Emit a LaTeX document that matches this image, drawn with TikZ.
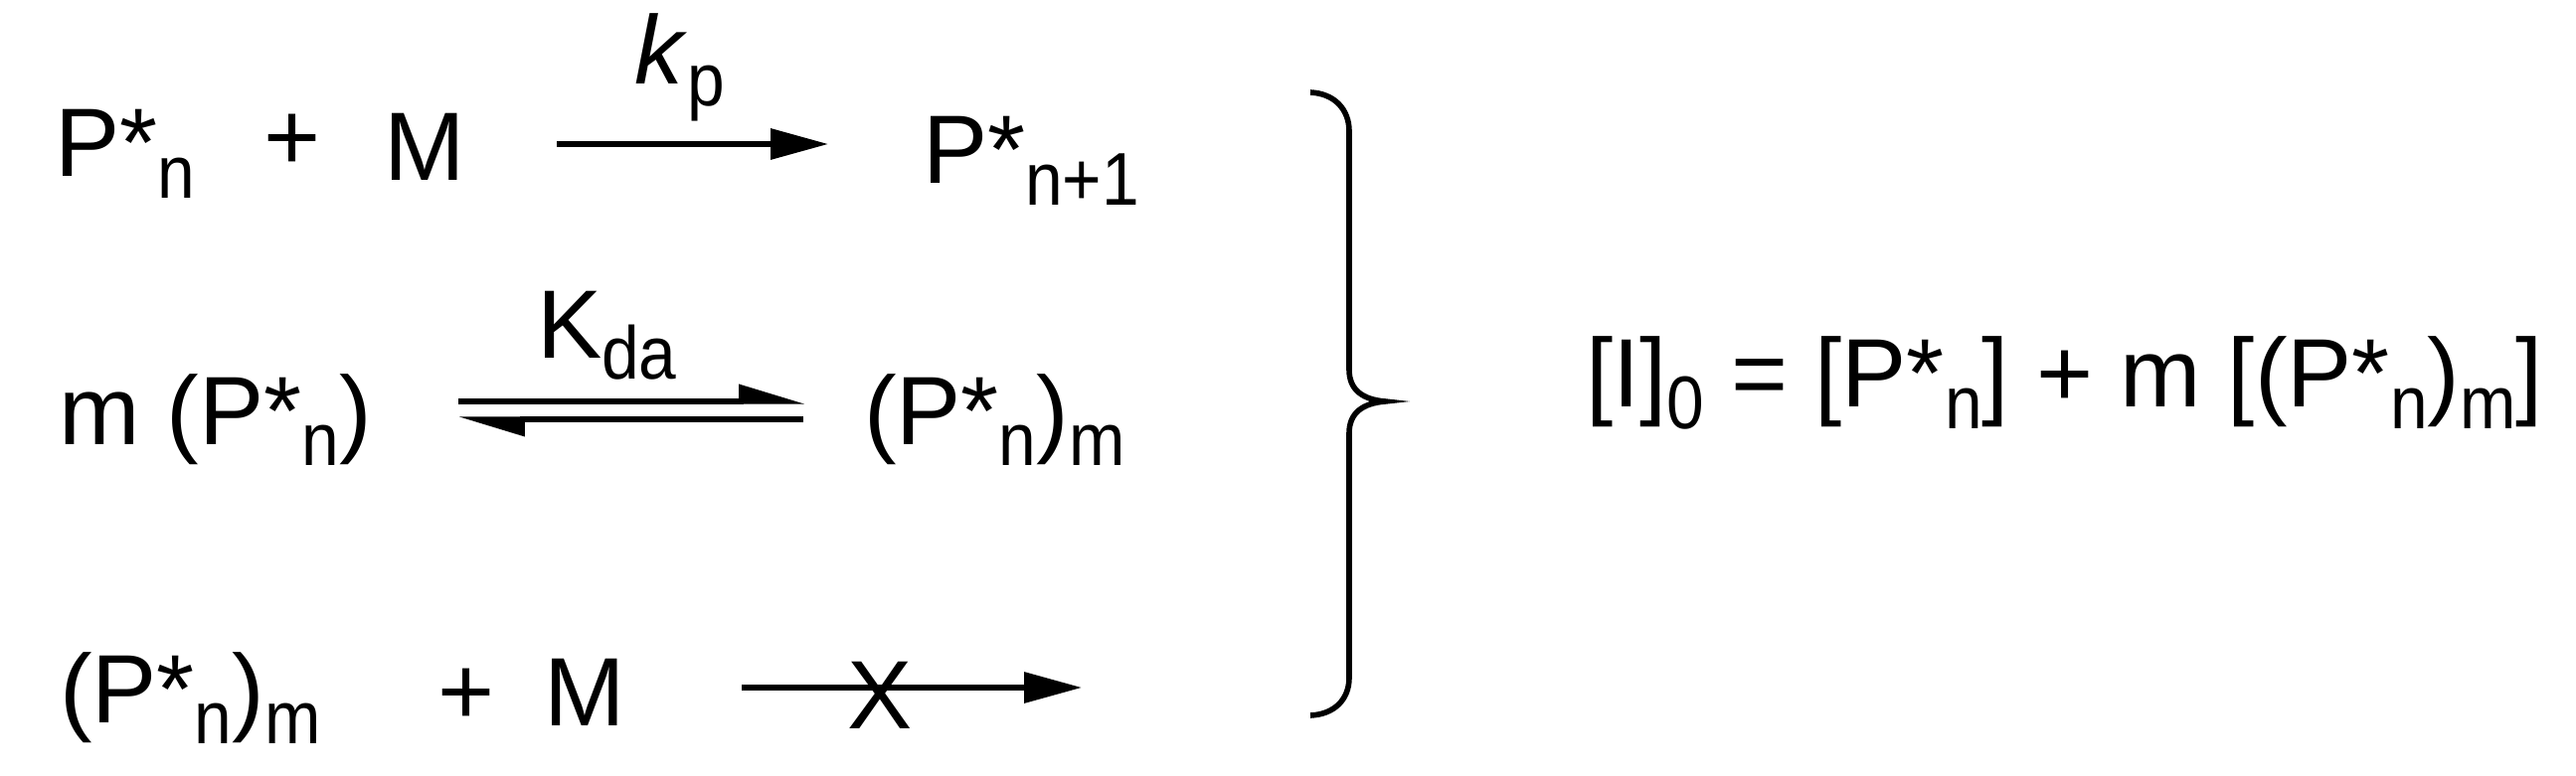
\documentclass[tikz,border=0pt]{standalone}
\usepackage{fontspec}
\setmainfont{Liberation Sans}
\usetikzlibrary{arrows.meta}
\newcommand{\sbs}[1]{\raisebox{-5.4pt}{\scalebox{0.9}[1]{\fontsize{18.8pt}{20pt}\selectfont #1}}}
\begin{document}
\begin{tikzpicture}[x=0.25pt,y=-0.25pt,
  txt/.style={inner sep=0pt, outer sep=0pt, anchor=base west, font=\fontsize{24.45pt}{28pt}\selectfont},
  rxn/.style={line width=1.3pt, -{Triangle[length=14.5pt,width=7.6pt]}},
  harp/.style={line width=1.3pt, -{Triangle[left,length=14.5pt,width=8.4pt]}},
  bracestyle/.style={line width=1.4pt}]
\useasboundingbox (0,0) rectangle (2591,781);
% row 1
\node[txt] (r1a) at (55,178) {P*\sbs{n}};
\node[txt] (r1p) at (265,172) {+};
\node[txt] (r1m) at (386,182) {M};
\node[txt] (kp) at (638,85) {\textit{k}\sbs{p}};
\node[txt] (r1b) at (928,185) {P*\sbs{n+1}};
\coordinate (a1s) at (560,145);
\coordinate (a1e) at (833,145);
\draw[rxn] (a1s) -- (a1e);
% row 2
\node[txt] (r2a) at (59,447) {m (P*\sbs{n})};
\node[txt] (kda) at (540,360) {K\sbs{da}};
\node[txt] (r2b) at (869,447) {(P*\sbs{n})\sbs{m}};
\coordinate (e1s) at (461,404);
\coordinate (e1e) at (810,404);
\coordinate (e2s) at (808,422);
\coordinate (e2e) at (461,422);
\draw[harp] (e1s) -- (e1e);
\draw[harp] (e2s) -- (e2e);
% row 3
\node[txt] (r3a) at (60,727) {(P*\sbs{n})\sbs{m}};
\node[txt] (r3p) at (440,729) {+};
\node[txt] (r3m) at (547,730) {M};
\coordinate (a3s) at (746,692);
\coordinate (a3e) at (1088,692);
\draw[rxn] (a3s) -- (a3e);
\node[txt, anchor=base] (xx) at (885,733) {X};
% brace
\draw[bracestyle] (1318,93) .. controls (1342,94) and (1357,110) .. (1357,132)
  -- (1357,372) .. controls (1357,392) and (1370,402) .. (1393,404)
  .. controls (1370,406) and (1357,416) .. (1357,436)
  -- (1357,682) .. controls (1357,704) and (1342,719) .. (1318,720);
% equation
\node[txt] (eq) at (1595,410) {[I]\sbs{0} = [P*\sbs{n}] + m [(P*\sbs{n})\sbs{m}]};
\end{tikzpicture}
\end{document}
